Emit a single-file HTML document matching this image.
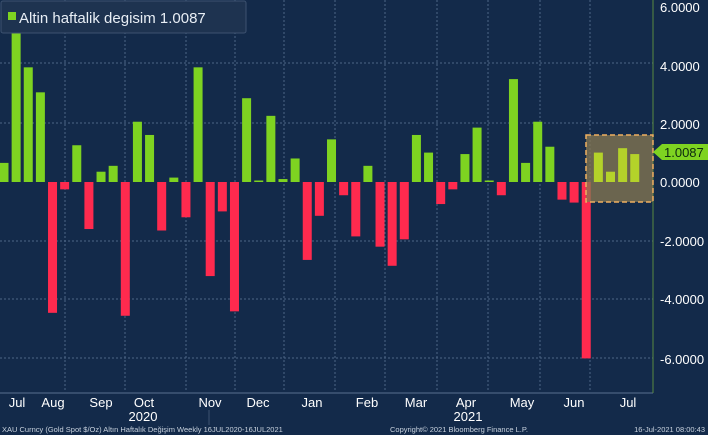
<!DOCTYPE html>
<html><head><meta charset="utf-8"><style>
body{margin:0;background:#132a4a;}
svg{display:block;font-family:"Liberation Sans",sans-serif;}
</style></head><body>
<svg width="708" height="435" xmlns="http://www.w3.org/2000/svg">
<rect width="708" height="435" fill="#132a4a"/>
<g stroke="#4d6585" stroke-dasharray="2,2" stroke-width="1">
<line x1="0" x2="653" y1="63" y2="63"/><line x1="0" x2="653" y1="123" y2="123"/>
<line x1="0" x2="653" y1="241" y2="241"/><line x1="0" x2="653" y1="299" y2="299"/>
<line x1="0" x2="653" y1="358" y2="358"/>
<line x1="65" x2="65" y1="0" y2="392"/><line x1="125" x2="125" y1="0" y2="392"/>
<line x1="186" x2="186" y1="0" y2="392"/><line x1="235" x2="235" y1="0" y2="392"/>
<line x1="284" x2="284" y1="0" y2="392"/><line x1="335" x2="335" y1="0" y2="392"/>
<line x1="385" x2="385" y1="0" y2="392"/><line x1="437" x2="437" y1="0" y2="392"/>
<line x1="488" x2="488" y1="0" y2="392"/><line x1="540" x2="540" y1="0" y2="392"/>
<line x1="590" x2="590" y1="0" y2="392"/>
</g>
<line x1="0" x2="653" y1="393" y2="393" stroke="#5a7090"/>
<line x1="653" x2="653" y1="0" y2="393" stroke="#5a8a40"/>
<g id="bars"></g>
<rect x="586" y="135" width="67" height="67" fill="#8a7a52" fill-opacity="0.75" stroke="#f0b060" stroke-width="1.5" stroke-dasharray="5,3"/>
<g id="hb"></g>
<g fill="#fff" font-size="13">
<text x="660" y="12">6.0000</text><text x="660" y="71">4.0000</text>
<text x="660" y="129">2.0000</text><text x="660" y="187">0.0000</text>
<text x="660" y="246">-2.0000</text><text x="660" y="304">-4.0000</text>
<text x="660" y="364">-6.0000</text>
</g>
<polygon points="653,152 662,144 708,144 708,160 662,160" fill="#7ed321"/>
<text x="664" y="157" font-size="13" fill="#0d2a10">1.0087</text>
<rect x="1" y="1" width="245" height="32" rx="2" fill="#1e3350" stroke="#3d5270"/>
<rect x="8" y="12" width="8" height="8" fill="#7ed321"/>
<text x="19" y="23" font-size="15" fill="#e8eef5">Altin haftalik degisim 1.0087</text>
<g fill="#fff" font-size="13" text-anchor="middle">
<text x="17" y="407">Jul</text><text x="53" y="407">Aug</text><text x="101" y="407">Sep</text>
<text x="144" y="407">Oct</text><text x="210" y="407">Nov</text><text x="258" y="407">Dec</text>
<text x="312" y="407">Jan</text><text x="367" y="407">Feb</text><text x="416" y="407">Mar</text>
<text x="466" y="407">Apr</text><text x="522" y="407">May</text><text x="574" y="407">Jun</text>
<text x="628" y="407">Jul</text>
<text x="143" y="421">2020</text><text x="468" y="421">2021</text>
</g>
<line x1="209" x2="209" y1="410" y2="425" stroke="#3d5270"/>
<g fill="#c8d2de" font-size="7.5">
<text x="2" y="432">XAU Curncy (Gold Spot  $/Oz) Altın Haftalık Değişim  Weekly 16JUL2020-16JUL2021</text>
<text x="390" y="432">Copyright© 2021 Bloomberg Finance L.P.</text>
<text x="705" y="432" text-anchor="end">16-Jul-2021 08:00:43</text>
</g>
<script>
var v=[0.65,5.1,3.9,3.05,-4.45,-0.25,1.25,-1.6,0.35,0.55,-4.55,2.05,1.6,-1.65,0.15,-1.2,3.9,-3.2,-1.0,-4.4,2.85,0.05,2.25,0.1,0.8,-2.65,-1.15,1.45,-0.45,-1.85,0.55,-2.2,-2.85,-1.95,1.6,1.0,-0.75,-0.25,0.95,1.85,0.05,-0.45,3.5,0.65,2.05,1.2,-0.6,-0.7,-6.0,1.0,0.35,1.15,0.95];
var z=182,s=29.4,g=document.getElementById('bars'),h=document.getElementById('hb'),ns='http://www.w3.org/2000/svg';
v.forEach(function(d,i){var cx=4+i*12.13,x=cx-4.5,w=9;if(x<0){w+=x;x=0;}
var r=document.createElementNS(ns,'rect');var hh=Math.max(Math.abs(d)*s,1.5);
r.setAttribute('x',x);r.setAttribute('width',w);r.setAttribute('y',d>=0?z-hh:z);r.setAttribute('height',hh);
r.setAttribute('fill',d>=0?(i>=49?'#b4d22a':'#7ed321'):'#ff2a4e');(i>=49?h:g).appendChild(r);});
</script>
</svg>
</body></html>
